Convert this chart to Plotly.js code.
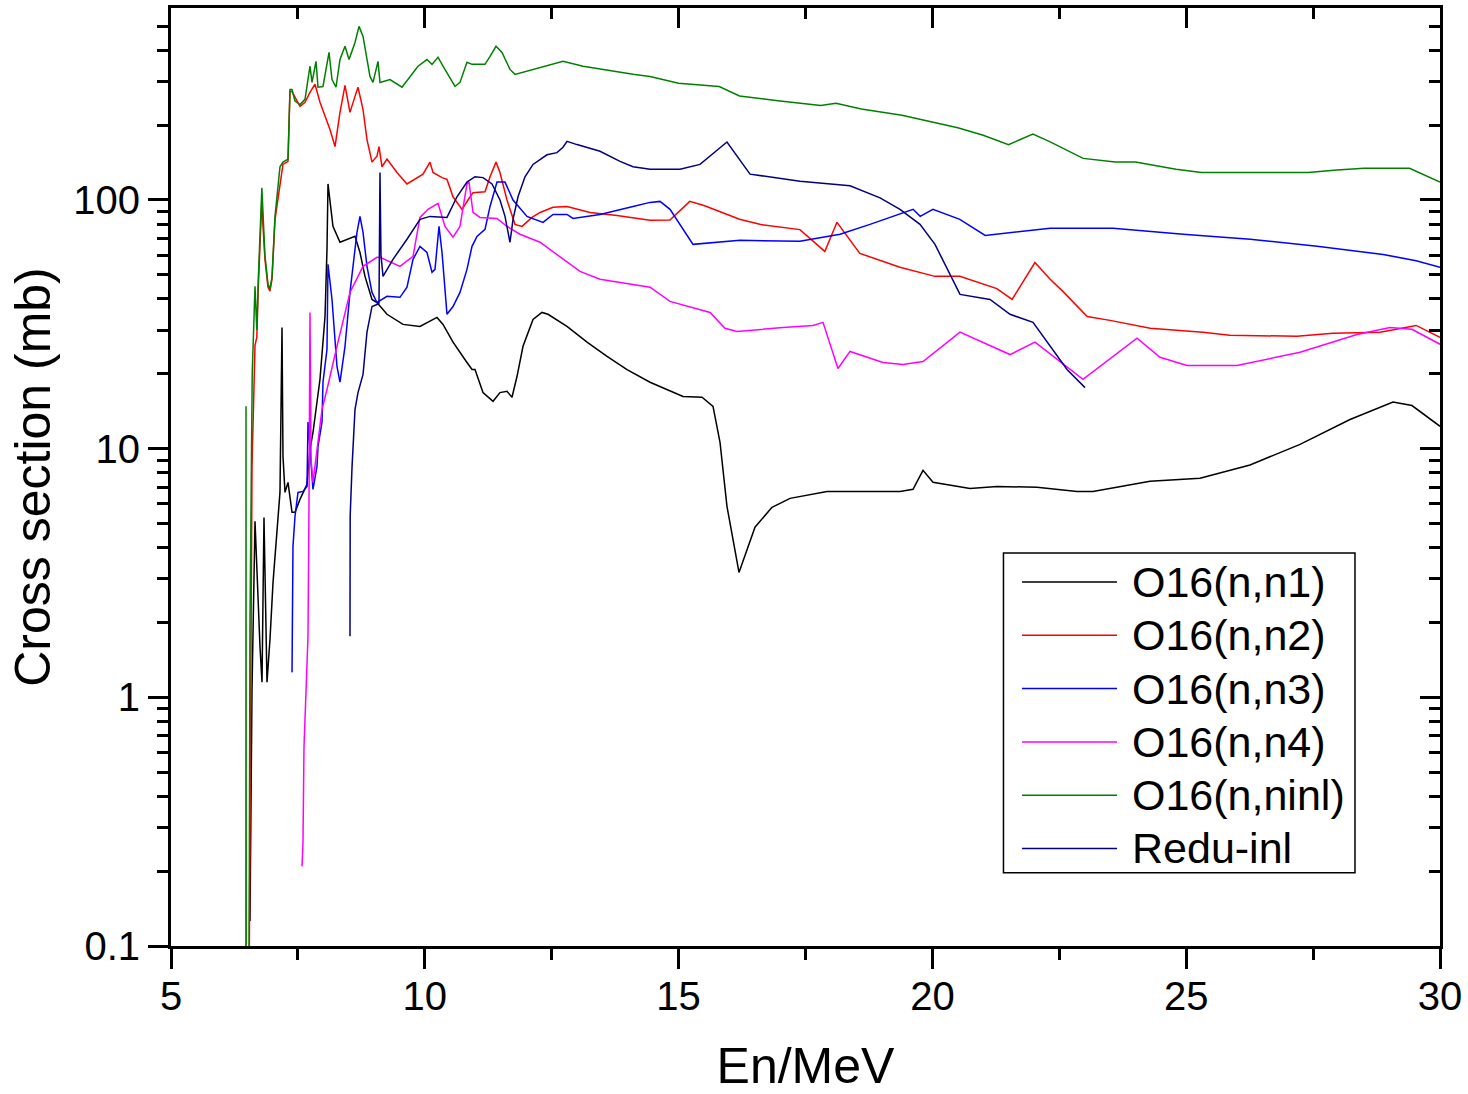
<!DOCTYPE html>
<html>
<head>
<meta charset="utf-8">
<script src="https://cdn.plot.ly/plotly-3.0.1.min.js"></script>
<style>html,body{margin:0;padding:0;background:#fff;}#chart{width:1468px;height:1094px;}</style>
</head>
<body>
<div id="chart"></div>
<script>
// Energy (MeV), cross section (mb) pairs
const n1 = [[6.556,0.126],[6.596,1.08],[6.655,5.10],[6.694,2.98],[6.753,1.60],[6.793,1.15],[6.832,5.29],[6.891,1.15],[6.950,1.71],[7.010,2.90],[7.088,4.61],[7.147,6.67],[7.187,30.7],[7.206,9.31],[7.246,6.67],[7.305,7.32],[7.384,5.55],[7.443,5.55],[7.541,6.25],[7.679,7.18],[7.738,9.94],[7.797,11.6],[7.876,15.4],[7.935,19.0],[8.034,34.0],[8.073,63.3],[8.093,116],[8.132,100],[8.191,78.3],[8.329,67.6],[8.467,69.5],[8.625,71.4],[8.723,61.5],[8.822,49.3],[8.960,39.8],[9.058,38.7],[9.255,34.7],[9.571,31.6],[9.905,31.0],[10.240,33.7],[10.359,31.6],[10.556,26.8],[10.831,22.2],[10.930,20.8],[10.989,20.8],[11.147,16.8],[11.344,15.5],[11.481,16.8],[11.619,17.0],[11.718,16.1],[11.816,19.5],[11.935,25.8],[12.132,33.1],[12.309,35.3],[12.427,34.7],[12.801,31.0],[13.196,26.8],[13.590,23.5],[13.984,20.8],[14.437,18.5],[15.087,16.2],[15.461,16.1],[15.678,14.8],[15.816,10.6],[15.953,5.86],[16.190,3.18],[16.505,4.83],[16.840,5.81],[17.195,6.31],[17.924,6.73],[19.362,6.73],[19.618,6.86],[19.815,8.18],[20.012,7.32],[20.741,6.92],[21.273,7.05],[22.061,6.99],[22.849,6.73],[23.164,6.73],[24.287,7.39],[25.272,7.6],[26.257,8.6],[27.242,10.4],[28.227,13.1],[29.074,15.4],[29.448,14.9],[30.0,12.3]];

const n2 = [[6.535,0.05],[6.556,0.3],[6.575,1.7],[6.596,8.5],[6.655,26],[6.69,28],[6.72,45],[6.79,100],[6.81,80],[6.85,58],[6.911,44.6],[6.95,43],[6.99,48],[7.049,83.6],[7.206,139],[7.305,143],[7.344,273],[7.384,273],[7.541,238],[7.640,247],[7.738,271],[7.837,292],[7.935,247],[8.073,205],[8.132,192],[8.231,164],[8.329,225],[8.428,289],[8.526,225],[8.625,261],[8.684,284],[8.783,231],[8.861,175],[8.960,142],[9.058,150],[9.098,164],[9.157,136],[9.255,146],[9.452,129],[9.649,116],[9.965,127],[10.102,142],[10.162,129],[10.339,123],[10.437,121],[10.556,103],[10.733,91.7],[10.851,100],[10.950,107],[11.186,108],[11.285,124],[11.403,142],[11.481,129],[11.619,100],[11.777,79.8],[11.915,78.3],[12.112,85.1],[12.270,89.1],[12.526,93.4],[12.801,94.2],[13.255,89.1],[13.786,86.7],[14.437,82.8],[14.83,83],[15.22,98.7],[15.5,95],[16.2,83.6],[16.6,79.8],[17.39,76],[17.88,62.1],[18.12,81.3],[18.57,61],[19.36,53.6],[20.05,49.3],[20.54,49.3],[21.27,44],[21.57,39.8],[22.02,56],[22.32,48],[22.57,42.9],[23.05,34.0],[23.5,32.8],[24.29,30.5],[25.33,29.4],[25.86,28.6],[27.18,28.3],[27.89,29.1],[28.82,29.4],[29.27,30.7],[29.53,31.3],[30.0,28.0]];

const n3 = [[7.384,1.26],[7.403,4.05],[7.443,5.35],[7.502,6.67],[7.600,6.73],[7.679,7.05],[7.699,12.8],[7.738,9.94],[7.797,6.86],[7.876,8.49],[7.896,10.2],[7.975,12.8],[7.994,18.5],[8.073,25.1],[8.093,55.1],[8.172,39.8],[8.270,21.4],[8.329,18.5],[8.428,25.8],[8.526,42.5],[8.625,63.3],[8.664,74.1],[8.723,85.9],[8.783,74.1],[8.861,54.1],[8.960,42.5],[9.058,38.7],[9.255,41.0],[9.511,40.6],[9.649,44.6],[9.768,57.7],[9.905,65.1],[10.043,61.5],[10.142,51.2],[10.201,52.6],[10.280,78.3],[10.339,61.5],[10.437,34.7],[10.556,37.3],[10.693,42.5],[10.831,52.6],[10.930,65.1],[11.028,71.4],[11.186,76.2],[11.285,94.2],[11.422,118],[11.580,118],[11.738,100],[12.013,85.9],[12.329,81.3],[12.526,87.5],[12.801,87.5],[12.920,84.3],[13.452,87.5],[14.102,94.2],[14.437,97.8],[14.634,98.7],[14.831,91.7],[15.284,66.3],[16.21,68.8],[17.39,68.2],[18.18,72.8],[18.77,79.8],[19.62,91.7],[19.76,85.9],[20.01,91.7],[20.54,83.6],[21.04,72.0],[22.32,76.9],[23.56,76.9],[24.94,72.8],[26.26,69.5],[27.58,65.1],[28.88,60.4],[29.53,57.0],[30.0,53.6]];

const n4 = [[7.581,0.209],[7.600,0.26],[7.620,0.63],[7.660,1.18],[7.699,1.76],[7.719,6.2],[7.738,35.3],[7.760,9.0],[7.797,7.32],[7.975,14.4],[8.073,17.3],[8.270,25.8],[8.526,42.5],[8.783,54.1],[9.058,58.8],[9.117,58.8],[9.511,54.1],[9.768,59.3],[9.905,85.1],[10.063,91.7],[10.260,96.9],[10.398,78.3],[10.556,70.8],[10.693,78.3],[10.831,116],[10.871,118],[10.950,89.1],[11.087,85.1],[11.422,84.3],[11.619,78.3],[11.875,72.8],[12.270,67.6],[12.664,59.3],[13.058,51.6],[13.452,48.0],[14.102,45.8],[14.437,44.6],[14.831,39.1],[15.619,35.3],[15.914,30.5],[16.151,29.6],[17.057,30.7],[17.648,31.3],[17.845,32.2],[18.140,21.0],[18.377,24.6],[19.027,22.2],[19.421,21.8],[19.815,22.4],[20.544,29.4],[21.529,23.9],[22.021,26.8],[22.967,19.0],[24.031,27.8],[24.484,23.3],[25.016,21.6],[26.001,21.6],[27.242,24.4],[28.365,28.8],[29.015,30.7],[29.448,30.2],[30.0,26.3]];

const ninl = [[6.475,0.05],[6.478,14.8],[6.482,0.05],[6.535,0.05],[6.556,2.0],[6.60,20],[6.655,45],[6.69,30],[6.72,48],[6.79,112],[6.81,85],[6.85,60],[6.911,45.8],[6.95,44],[6.99,49],[7.049,85.9],[7.147,136],[7.206,142],[7.305,146],[7.344,278],[7.384,278],[7.443,250],[7.541,242],[7.640,254],[7.738,345],[7.778,297],[7.857,361],[7.896,284],[7.994,286],[8.113,392],[8.172,305],[8.251,284],[8.329,367],[8.428,415],[8.507,367],[8.625,430],[8.704,499],[8.783,455],[8.920,314],[8.980,297],[9.078,361],[9.117,297],[9.314,305],[9.551,284],[9.866,345],[10.043,367],[10.142,351],[10.260,375],[10.359,345],[10.595,286],[10.693,297],[10.831,358],[10.930,351],[11.186,351],[11.285,378],[11.403,415],[11.521,392],[11.678,335],[11.777,320],[12.132,335],[12.407,345],[12.723,361],[13.117,345],[13.708,329],[14.102,320],[14.437,314],[15.0,295],[15.8,286],[16.2,262],[17.0,250],[17.8,240],[18.1,245],[18.6,232],[19.4,219],[20.0,205],[20.5,195],[21.0,182],[21.5,167],[21.98,184],[22.3,172],[22.97,147],[23.6,142],[24.0,142],[24.8,133],[25.3,129],[27.4,129],[27.97,132],[28.5,134],[29.4,134],[30.0,118]];

const reduInl = [[8.526,1.76],[8.530,5.35],[8.566,8.41],[8.625,14.4],[8.684,16.8],[8.783,19.9],[8.861,29.4],[8.960,37.3],[9.058,38.0],[9.098,38.5],[9.117,129],[9.137,60],[9.177,49.3],[9.373,57.7],[9.649,69.5],[9.905,83.6],[10.102,85.9],[10.437,85.1],[10.634,103],[10.831,118],[10.989,124],[11.147,123],[11.324,116],[11.481,100],[11.580,85.9],[11.678,67.6],[11.738,83.6],[11.836,103],[11.974,124],[12.132,139],[12.407,152],[12.604,155],[12.723,163],[12.801,172],[12.998,167],[13.452,157],[13.846,143],[14.102,136],[14.437,133],[15.028,133],[15.422,139],[15.953,171],[16.407,127],[17.392,119],[18.377,114],[18.968,102],[19.362,91.7],[19.756,79.8],[20.051,66.3],[20.544,41.7],[21.135,39.8],[21.529,34.7],[21.982,32.2],[22.652,20.8],[23.007,17.6]];

const seriesNames = ['O16(n,n1)','O16(n,n2)','O16(n,n3)','O16(n,n4)','O16(n,ninl)','Redu-inl'];
const seriesData = [n1, n2, n3, n4, ninl, reduInl];
const seriesColors = ['#000000','#FF0000','#0000FF','#FF00FF','#008000','#000080'];

const yTickVals = [0.1, 1, 10, 100];
const yTickText = ['0.1', '1', '10', '100'];
const xTickVals = [5, 10, 15, 20, 25, 30];

const FONT = 'Arial, "Liberation Sans", sans-serif';
const traces = seriesData.map((d, i) => ({
  type: 'scatter', mode: 'lines', name: seriesNames[i],
  x: d.map(p => p[0]), y: d.map(p => p[1]),
  line: {color: seriesColors[i], width: 1.5},
  hoverinfo: 'skip', showlegend: false
}));

// Hand-drawn legend box (paper coordinates) to match the reference spacing
const legBox = {x0: 0.656, x1: 0.933, y0: 0.078, y1: 0.419};
const legFirstY = 0.388, legStep = 0.0568;
const legLineX = [0.6706, 0.7455], legTextX = 0.7557;
const shapes = [{type: 'rect', xref: 'paper', yref: 'paper', x0: legBox.x0, x1: legBox.x1, y0: legBox.y0, y1: legBox.y1,
  line: {color: '#000', width: 1.5}, fillcolor: '#ffffff', layer: 'above'}];
const annotations = [];
seriesNames.forEach((nm, i) => {
  const yy = legFirstY - i * legStep;
  shapes.push({type: 'line', xref: 'paper', yref: 'paper', x0: legLineX[0], x1: legLineX[1], y0: yy, y1: yy,
    line: {color: seriesColors[i], width: 1.5}, layer: 'above'});
  annotations.push({xref: 'paper', yref: 'paper', x: legTextX, y: yy, xanchor: 'left', yanchor: 'middle',
    text: nm, showarrow: false, font: {family: FONT, size: 43, color: '#000'}});
});

const yRange = [-1, 2.772];
const layout = {
  width: 1468, height: 1094,
  margin: {l: 171, r: 28, t: 8, b: 148, pad: 0},
  paper_bgcolor: '#ffffff', plot_bgcolor: '#ffffff',
  font: {family: FONT, color: '#000000'},
  showlegend: false,
  shapes: shapes, annotations: annotations,
  xaxis: {
    range: [5, 30], tickvals: xTickVals, ticks: 'outside', ticklen: 20, tickwidth: 3,
    tickcolor: '#000', showline: true, linewidth: 3, linecolor: '#000', mirror: true,
    showgrid: false, zeroline: false,
    tickfont: {family: FONT, size: 40, color: '#000'}, ticklabelstandoff: -7,
    minor: {dtick: 2.5, ticks: 'outside', ticklen: 11, tickwidth: 3, tickcolor: '#000', showgrid: false},
    title: {text: 'En/MeV', font: {family: FONT, size: 50, color: '#000'}, standoff: 56}
  },
  yaxis: {
    type: 'log', range: yRange, tickvals: yTickVals, ticktext: yTickText,
    ticks: 'outside', ticklen: 20, tickwidth: 3, tickcolor: '#000',
    showline: true, linewidth: 3, linecolor: '#000', mirror: true,
    showgrid: false, zeroline: false,
    tickfont: {family: FONT, size: 40, color: '#000'}, ticklabelstandoff: 0,
    minor: {dtick: 'D1', ticks: 'outside', ticklen: 11, tickwidth: 3, tickcolor: '#000', showgrid: false},
    title: {text: 'Cross section (mb)', font: {family: FONT, size: 50, color: '#000'}, standoff: 7}
  },
  xaxis2: {
    overlaying: 'x', side: 'top', anchor: 'y', range: [5, 30], tickvals: xTickVals,
    ticks: 'inside', ticklen: 20, tickwidth: 3, tickcolor: '#000', showticklabels: false,
    showline: false, showgrid: false, zeroline: false,
    minor: {dtick: 2.5, ticks: 'inside', ticklen: 11, tickwidth: 3, tickcolor: '#000', showgrid: false}
  },
  yaxis2: {
    overlaying: 'y', side: 'right', anchor: 'x', type: 'log', range: yRange, tickvals: yTickVals,
    ticks: 'inside', ticklen: 20, tickwidth: 3, tickcolor: '#000', showticklabels: false,
    showline: false, showgrid: false, zeroline: false,
    minor: {dtick: 'D1', ticks: 'inside', ticklen: 11, tickwidth: 3, tickcolor: '#000', showgrid: false}
  }
};

traces.push({type: 'scatter', mode: 'lines', x: [], y: [], xaxis: 'x2', yaxis: 'y', showlegend: false, hoverinfo: 'skip'});
traces.push({type: 'scatter', mode: 'lines', x: [], y: [], xaxis: 'x', yaxis: 'y2', showlegend: false, hoverinfo: 'skip'});

Plotly.newPlot('chart', traces, layout, {displayModeBar: false, staticPlot: true});
</script>
</body>
</html>
